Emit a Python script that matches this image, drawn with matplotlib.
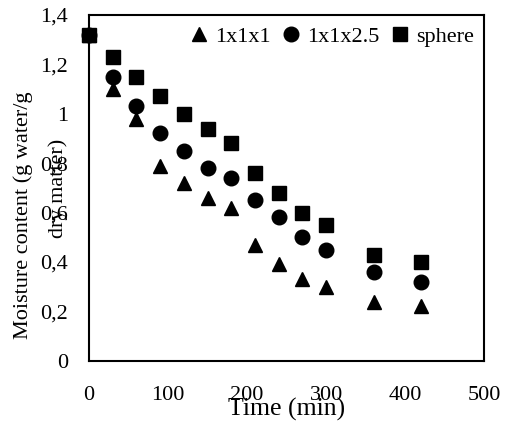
import matplotlib.pyplot as plt

plt.rcParams['font.family'] = ['Liberation Serif', 'DejaVu Serif']

time_min = [0, 30, 60, 90, 120, 150, 180, 210, 240, 270, 300, 360, 420]
cube_1x1x1 = [1.32, 1.10, 0.98, 0.79, 0.72, 0.66, 0.62, 0.47, 0.39, 0.33, 0.30, 0.24, 0.22]
cube_1x1x25 = [1.32, 1.15, 1.03, 0.92, 0.85, 0.78, 0.74, 0.65, 0.58, 0.50, 0.45, 0.36, 0.32]
sphere = [1.32, 1.23, 1.15, 1.07, 1.00, 0.94, 0.88, 0.76, 0.68, 0.60, 0.55, 0.43, 0.40]

y_ticks = [0, 0.2, 0.4, 0.6, 0.8, 1.0, 1.2, 1.4]
y_tick_labels = ["0", "0,2", "0,4", "0,6", "0,8", "1", "1,2", "1,4"]
x_ticks = [0, 100, 200, 300, 400, 500]

fig = plt.figure(figsize=(5.06, 4.24), dpi=100)
ax = fig.add_axes([0.176, 0.149, 0.781, 0.816])

ms = 10.5
ax.plot(time_min, cube_1x1x1, '^', color='black', ms=ms, label='1x1x1', clip_on=False)
ax.plot(time_min, cube_1x1x25, 'o', color='black', ms=ms, label='1x1x2.5', clip_on=False)
ax.plot(time_min, sphere, 's', color='black', ms=ms, label='sphere', clip_on=False)

ax.set_xlim(0, 500)
ax.set_ylim(0, 1.4)
ax.set_xticks(x_ticks)
ax.set_yticks(y_ticks)
ax.set_yticklabels(y_tick_labels)
ax.tick_params(length=0, labelsize=16)
ax.tick_params(axis='x', pad=18)
ax.tick_params(axis='y', pad=15)
for sp in ax.spines.values():
    sp.set_linewidth(1.5)

ax.set_xlabel("Time (min)", fontsize=18.5)
ax.xaxis.set_label_coords(0.5, -0.108)

ax.text(-0.167, 0.422, "Moisture content (g water/g", rotation=90, fontsize=16,
        ha='center', va='center', transform=ax.transAxes)
ax.text(-0.078, 0.497, "dry matter)", rotation=90, fontsize=16,
        ha='center', va='center', transform=ax.transAxes)

ax.legend(loc='center right', bbox_to_anchor=(0.975, 0.936), ncol=3, frameon=False,
          fontsize=16, handlelength=0.75, handletextpad=0.35, columnspacing=0.55,
          borderpad=0, borderaxespad=0)

fig.savefig("out.png", dpi=100)
